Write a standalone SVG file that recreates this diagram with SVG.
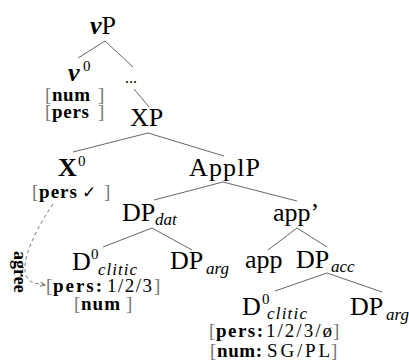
<svg xmlns="http://www.w3.org/2000/svg" width="409" height="362" viewBox="0 0 409 362">
<style>
text{font-family:"Liberation Serif","Times New Roman",serif;fill:#000}
.n{font-size:26px}
.b{font-weight:bold}
.i{font-style:italic}
.sub{font-size:17px;font-style:italic}
.sup{font-size:15px}
.f{font-size:19px}
.br{font-size:19px;fill:#777}
.edge{stroke:#666;stroke-width:1;fill:none}
.dash{stroke:#777;stroke-width:1;fill:none;stroke-dasharray:3.5,3}
</style>
<defs>
<marker id="ah" markerWidth="6" markerHeight="6" refX="5" refY="3" orient="auto" markerUnits="userSpaceOnUse">
<path d="M0,0.5 L5,3 L0,5.5" fill="none" stroke="#777" stroke-width="1"/>
</marker>
</defs>
<g id="connectors">
<line class="edge" x1="105" y1="41" x2="78" y2="58"/>
<line class="edge" x1="105" y1="41" x2="133" y2="67"/>
<line class="edge" x1="134" y1="89" x2="149" y2="107"/>
<line class="edge" x1="148" y1="133" x2="73" y2="152"/>
<line class="edge" x1="148" y1="133" x2="224" y2="156"/>
<line class="edge" x1="223" y1="182" x2="154" y2="200"/>
<line class="edge" x1="223" y1="182" x2="297" y2="201"/>
<line class="edge" x1="152" y1="228" x2="103" y2="247"/>
<line class="edge" x1="152" y1="228" x2="192" y2="250"/>
<line class="edge" x1="297" y1="228" x2="268" y2="250"/>
<line class="edge" x1="297" y1="228" x2="327" y2="247"/>
<line class="edge" x1="327" y1="273" x2="275" y2="291"/>
<line class="edge" x1="327" y1="273" x2="382" y2="292"/>
<path class="dash" d="M53,204 C30,238 14,276 34,283 L45,285" marker-end="url(#ah)"/>
<text class="b" font-size="18" transform="translate(14,251) rotate(90)">agree</text>
</g>
<g id="vP"><text class="n" x="90" y="34"><tspan class="b i">v</tspan><tspan>P</tspan></text></g>
<g id="v0">
<text class="n b i" x="68" y="81">v</text>
<text class="sup" x="83" y="71">0</text>
<text class="br" x="45" y="101">[</text><text class="f b" x="52" y="101" textLength="38">num</text><text class="br" x="98" y="101">]</text>
<text class="br" x="45" y="118">[</text><text class="f b" x="52" y="118" textLength="37">pers</text><text class="br" x="98" y="118">]</text>
</g>
<g id="dots"><text font-size="16" x="125" y="83">...</text></g>
<g id="XP"><text class="n" x="130" y="126">XP</text></g>
<g id="X0">
<text class="n b" x="58" y="176">X</text>
<text class="sup" x="78" y="166">0</text>
<text class="br" x="32" y="198">[</text><text class="f b" x="39" y="198" textLength="38">pers</text><text style="font-family:'DejaVu Sans',sans-serif;font-size:17px;font-weight:bold" x="82" y="198">✓</text><text class="br" x="104" y="198">]</text>
</g>
<g id="ApplP"><text class="n" x="189" y="176" textLength="71">ApplP</text></g>
<g id="DPdat"><text class="n" x="122" y="221">DP</text><text class="sub" x="155" y="225">dat</text></g>
<g id="appbar"><text class="n" x="273" y="221">app’</text></g>
<g id="D0clitic1">
<text class="n" x="72" y="270">D</text>
<text class="sup" x="91" y="259">0</text>
<text class="sub" x="98" y="275" textLength="39">clitic</text>
<text class="br" x="46" y="292">[</text><text class="f b" x="53" y="292" textLength="49">pers:</text><text class="f" x="107" y="292" textLength="45">1/2/3</text><text class="br" x="154" y="292">]</text>
<text class="br" x="74" y="310">[</text><text class="f b" x="81" y="310" textLength="39">num</text><text class="br" x="126" y="310">]</text>
</g>
<g id="DParg1"><text class="n" x="170" y="269">DP</text><text class="sub" x="206" y="274">arg</text></g>
<g id="app"><text class="n" x="245" y="268">app</text></g>
<g id="DPacc"><text class="n" x="296" y="268">DP</text><text class="sub" x="331" y="272">acc</text></g>
<g id="D0clitic2">
<text class="n" x="242" y="315">D</text>
<text class="sup" x="262" y="304">0</text>
<text class="sub" x="267" y="319" textLength="40">clitic</text>
<text class="br" x="209" y="337">[</text><text class="f b" x="216" y="337" textLength="47">pers:</text><text class="f" x="266" y="337" textLength="66">1/2/3/ø</text><text class="br" x="333" y="337">]</text>
<text class="br" x="210" y="357">[</text><text class="f b" x="217" y="357" textLength="45">num:</text><text class="f" x="267" y="357" textLength="63">SG/PL</text><text class="br" x="331" y="357">]</text>
</g>
<g id="DParg2"><text class="n" x="350" y="315">DP</text><text class="sub" x="386" y="320">arg</text></g>
</svg>
